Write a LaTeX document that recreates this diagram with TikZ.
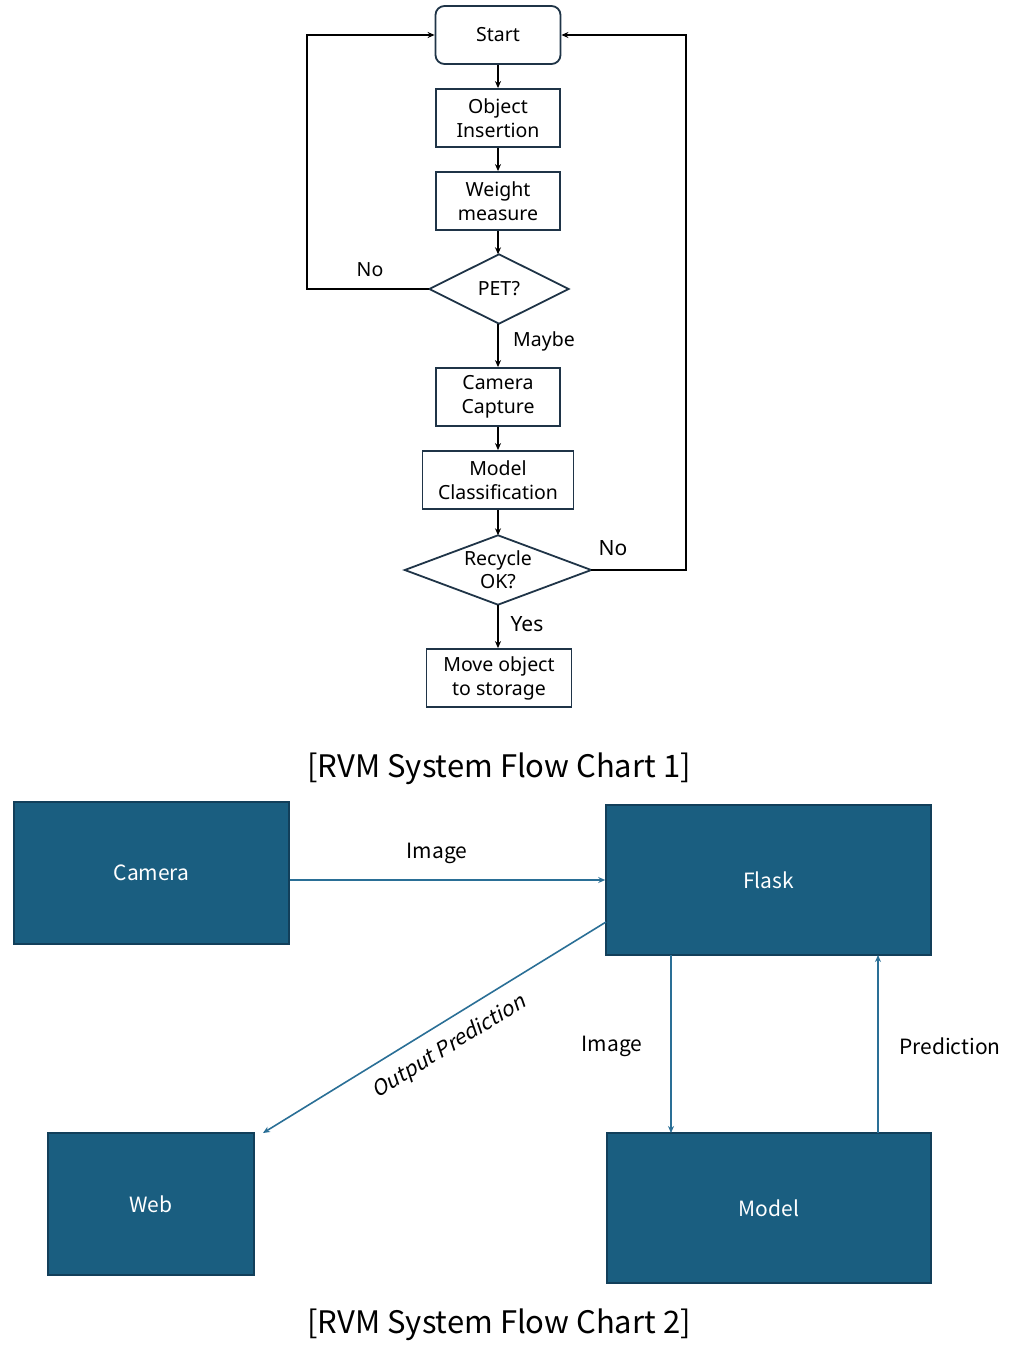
\documentclass[tikz,border=0pt]{standalone}
\usepackage{fontspec}
\setmainfont{Noto Sans}
\newfontfamily\krfont{Noto Sans CJK KR}
\newfontfamily\krslant[FakeSlant=0.22]{Noto Sans CJK KR}
\usetikzlibrary{shapes.geometric,arrows.meta}
\definecolor{boxline}{HTML}{1F3447}
\definecolor{tealfill}{HTML}{1A5E80}
\definecolor{tealline}{HTML}{123F5A}
\definecolor{tealarrow}{HTML}{2A6F96}
\begin{document}
\begin{tikzpicture}[x=1pt,y=-1pt,
  fbox/.style={draw=boxline,line width=1.8pt,fill=white,inner sep=0pt,align=center,font=\fontsize{19.5}{24}\selectfont},
  fdia/.style={inner sep=0pt,align=center,font=\fontsize{19.5}{23}\selectfont},
  dialine/.style={draw=boxline,line width=1.8pt,fill=white},
  flow/.style={draw=black,line width=1.8pt,-{Stealth[length=7pt,width=6pt]}},
  flab/.style={font=\fontsize{19.5}{22}\selectfont},
  tbox/.style={draw=tealline,line width=1.6pt,fill=tealfill,text=white,inner sep=0pt,font=\krfont\fontsize{21}{24}\selectfont},
  tflow/.style={draw=tealarrow,line width=1.6pt,-{Stealth[length=7pt,width=6pt]}},
  tlab/.style={font=\krfont\fontsize{21}{24}\selectfont},
  captext/.style={font=\krfont\fontsize{31}{34}\selectfont}
]
\useasboundingbox (0,0) rectangle (1010,1360);
% ---------- chart 1 ----------
\node[fbox,rounded corners=9pt,minimum width=125pt,minimum height=58pt] (start) at (498,35) {Start};
\node[fbox,minimum width=124pt,minimum height=58pt] (obj) at (498,118) {Object\\Insertion};
\node[fbox,minimum width=124pt,minimum height=58pt] (wgt) at (498,201) {Weight\\measure};
\node[fdia,minimum width=139pt,minimum height=69pt] (pet) at (499,289) {};
\draw[dialine] (pet.north) -- (pet.east) -- (pet.south) -- (pet.west) -- cycle;
\node[fdia] (pettext) at (pet.center) {PET?};
\node[fbox,minimum width=124pt,minimum height=58pt] (cam) at (498,397) {Camera\\Capture};
\node[fbox,minimum width=151pt,minimum height=58pt] (mod) at (498,480) {Model\\Classification};
\node[fdia,minimum width=186pt,minimum height=69pt] (rec) at (498,570) {};
\draw[dialine] (rec.north) -- (rec.east) -- (rec.south) -- (rec.west) -- cycle;
\node[fdia] (rectext) at (rec.center) {Recycle\\OK?};
\node[fbox,minimum width=145pt,minimum height=58pt] (mov) at (499,678) {Move object\\to storage};
\coordinate (lA) at (307,289);
\coordinate (lB) at (307,35);
\coordinate (rA) at (686,570);
\coordinate (rB) at (686,35);
\draw[flow] (start) -- (obj);
\draw[flow] (obj) -- (wgt);
\draw[flow] (wgt.south) -- (wgt.south |- pet.north);
\draw[flow] (wgt.south |- pet.south) -- (wgt.south |- cam.north);
\draw[flow] (cam) -- (mod);
\draw[flow] (mod.south) -- (mod.south |- rec.north);
\draw[flow] (rec.south) -- (rec.south |- mov.north);
\draw[flow] (pet.west) -- (lA) -- (lB) -- (start.west);
\draw[flow] (rec.east) -- (rA) -- (rB) -- (start.east);
\node[flab] (noA) at (370,270) {No};
\node[flab] (maybe) at (544,341) {Maybe};
\node[flab,font=\fontsize{21}{24}\selectfont] (noB) at (613,548) {No};
\node[flab,font=\fontsize{21}{24}\selectfont] (yes) at (527,624) {Yes};
\node[captext] (cap1) at (499,769) {[RVM System Flow Chart 1]};
% ---------- chart 2 ----------
\node[tbox,minimum width=275pt,minimum height=142pt] (camera) at (151.5,873) {Camera};
\node[tbox,minimum width=325pt,minimum height=150pt] (flask) at (768.5,880) {Flask};
\node[tbox,minimum width=206pt,minimum height=142pt] (web) at (151,1204) {Web};
\node[tbox,minimum width=324pt,minimum height=150pt] (model) at (769,1208) {Model};
\coordinate (flaskout) at (606,922);
\coordinate (webin) at (263,1133);
\coordinate (fdown) at (671,955);
\coordinate (mtop) at (671,1133);
\coordinate (mup) at (878,1133);
\coordinate (fin) at (878,955);
\draw[tflow] (camera.east |- flask.west) -- (flask.west);
\draw[tflow] (flaskout) -- (webin);
\draw[tflow] (fdown) -- (mtop);
\draw[tflow] (mup) -- (fin);
\node[tlab] (l1) at (437,853) {Image};
\node[tlab,font=\krslant\fontsize{21}{24}\selectfont,rotate=31.6] (l2) at (449,1047) {Output Prediction};
\node[tlab] (l3) at (612,1046) {Image};
\node[tlab] (l4) at (950,1046) {Prediction};
\node[captext] (cap2) at (499,1325) {[RVM System Flow Chart 2]};
\end{tikzpicture}
\end{document}
